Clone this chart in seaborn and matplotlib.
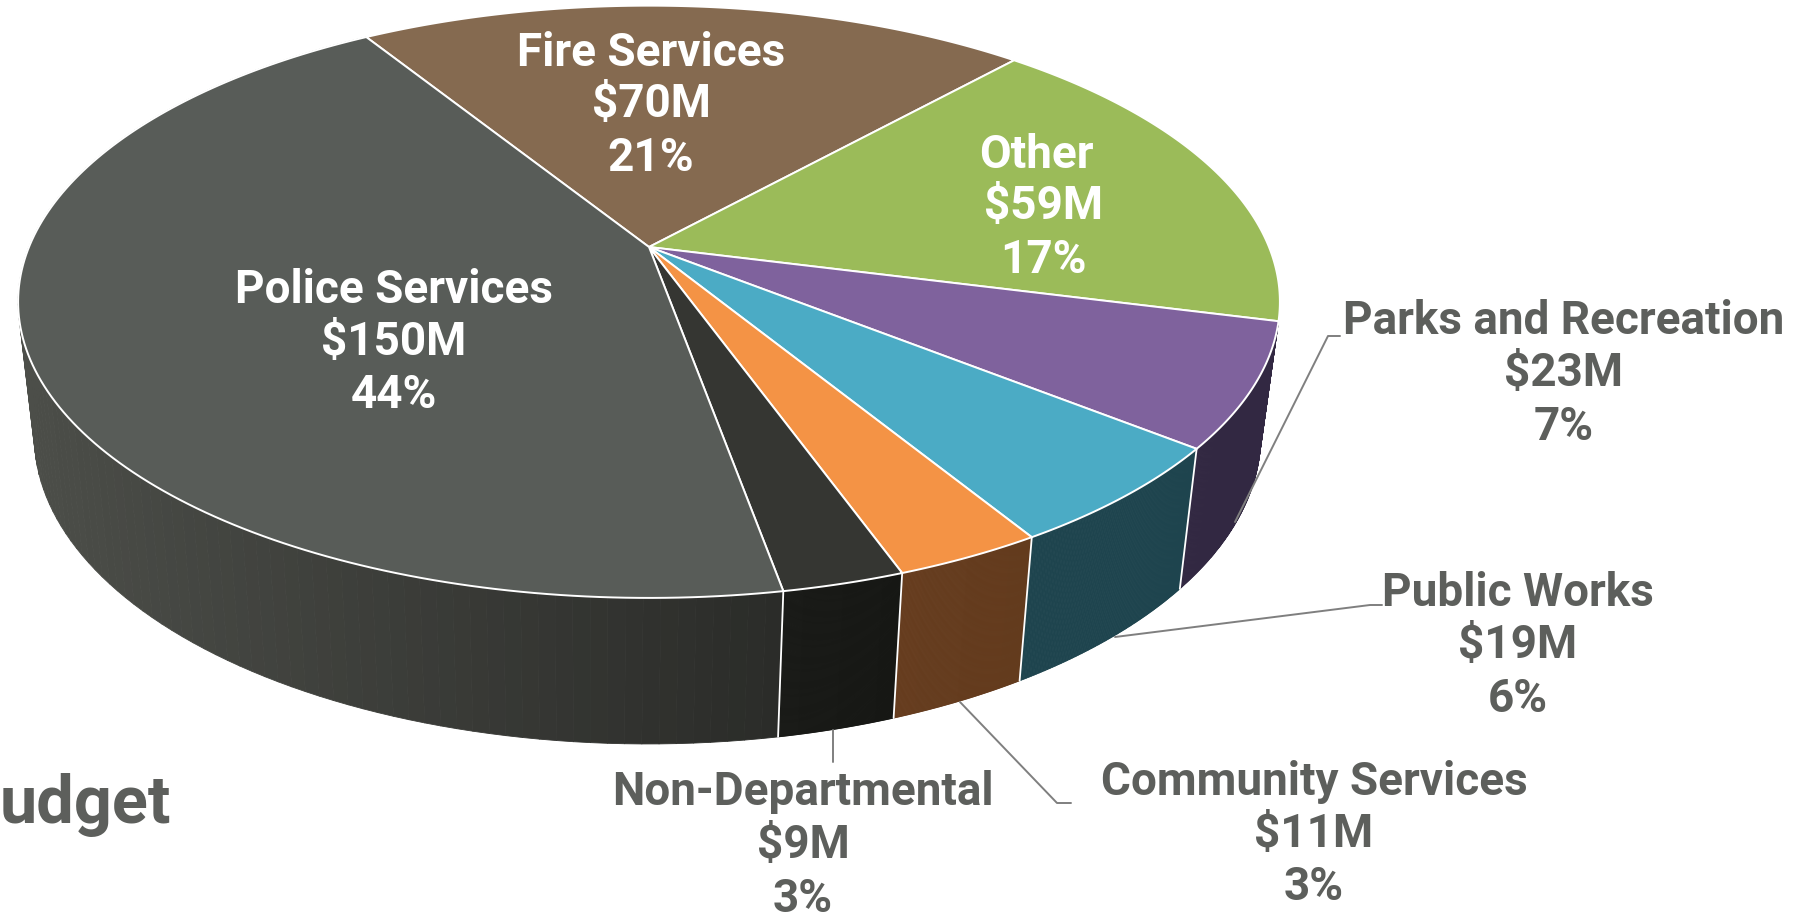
import matplotlib
matplotlib.use('Agg')
import matplotlib.pyplot as plt
import numpy as np
import seaborn as sns
from matplotlib.collections import PolyCollection

# slices, clockwise from the back left of the pie
names = ['Fire Services', 'Other', 'Parks and Recreation', 'Public Works',
         'Community Services', 'Non-Departmental', 'Police Services']
budget = [70, 59, 23, 19, 11, 9, 150]
percent = [21, 17, 7, 6, 3, 3, 44]

top_colors = ['#856a50', '#9bbb59', '#7f629d', '#4babc5', '#f49345', '#353632', '#585c58']
wall_start = [None, None, '#322842', '#1e444e', '#633b1d', '#161714', '#2b2c29']
wall_end = [None, None, '#322842', '#1e444e', '#663c1e', '#191a17', '#4c4e49']

start_angle = 121.85

# pixel geometry of the perspective
cx, cy = 649, 247
a, b, k = 620.0, 286.0, 0.185
sx, sy, drop = 0.972, 1.04, 132.0
shift = -1.5


def project(theta):
    # circle -> perspective ellipse, apex stays off centre
    u, v = np.cos(theta), np.sin(theta)
    return a * u / (1 + k * v), b * v / (1 + k * v)


def top_xy(theta):
    x, y = project(theta)
    return cx + x, cy - y


def bottom_xy(theta):
    x, y = project(theta)
    return cx + shift + sx * x, cy - (sy * y - drop)


def blend(c0, c1, t):
    c0, c1 = np.array(matplotlib.colors.to_rgb(c0)), np.array(matplotlib.colors.to_rgb(c1))
    return c0 + (c1 - c0) * t


sns.set_theme(style='white')
plt.rcParams['font.family'] = ['Roboto', 'DejaVu Sans']
plt.rcParams['font.weight'] = 'bold'

fig = plt.figure(figsize=(18.11, 9.18), dpi=100)
ax = fig.add_axes([0, 0, 1, 1])
ax.set_xlim(0, 1811)
ax.set_ylim(918, 0)
ax.axis('off')

sweeps = np.array(budget) / sum(budget) * 360
edges = start_angle - np.concatenate([[0], np.cumsum(sweeps)])
palette = sns.color_palette(top_colors)

# side wall
for i in range(len(budget)):
    if wall_start[i] is None:
        continue
    th = np.radians(np.linspace(edges[i], edges[i + 1], 120))
    xt, yt = top_xy(th)
    xb, yb = bottom_xy(th)
    polys, cols = [], []
    for j in range(len(th) - 1):
        polys.append([(xt[j], yt[j]), (xt[j + 1], yt[j + 1]), (xb[j + 1], yb[j + 1]), (xb[j], yb[j])])
        t = abs(xt[j] - xt.max()) / (xt.max() - xt.min())
        cols.append(blend(wall_start[i], wall_end[i], t))
    ax.add_collection(PolyCollection(polys, facecolors=cols, edgecolors=cols, linewidths=0.6, zorder=2))

# white seams between the visible walls
for e in edges[3:7]:
    th = np.radians(e)
    xt, yt = top_xy(th)
    xb, yb = bottom_xy(th)
    ax.plot([xt, xb], [yt, yb], color='white', lw=1.3, zorder=3)

# top face
for i in range(len(budget)):
    th = np.radians(np.linspace(edges[i], edges[i + 1], 160))
    xt, yt = top_xy(th)
    ax.fill(np.r_[cx, xt], np.r_[cy, yt], facecolor=palette[i], edgecolor='white',
            lw=1.4, joinstyle='round', zorder=4)

# leader lines
leaders = [([1235, 1328, 1340], [522, 336, 336]),
           ([1115, 1370, 1382], [637, 605, 605]),
           ([960, 1057, 1071], [702, 803, 803]),
           ([833, 833], [730, 762])]
for lx, ly in leaders:
    ax.plot(lx, ly, color='#7f7f7f', lw=1.4, zorder=5)

# labels: centre x and the three baselines of every block
label_x = [651, 1036, 1564, 1518, 1314, 803, 394]
label_y = [(66, 117, 171), (168, 219, 273), (334, 386, 440), (606, 658, 712),
           (795, 847, 900), (805, 858, 912), (303, 355, 408)]
inside = ['Fire Services', 'Other', 'Police Services']
for i, name in enumerate(names):
    col = 'white' if name in inside else '#5d5f5c'
    lines = [name, f'${budget[i]}M', f'{percent[i]}%']
    for j, line in enumerate(lines):
        x = label_x[i]
        if name == 'Other' and j > 0:
            x += 7
        ax.text(x, label_y[i][j], line, color=col, fontsize=33, fontweight='bold',
                ha='center', va='baseline', zorder=6)

ax.text(171, 823, 'udget', color='#5d5f5c', fontsize=48, fontweight='bold',
        ha='right', va='baseline', zorder=6)

fig.savefig('out.png', dpi=100, facecolor='white')
